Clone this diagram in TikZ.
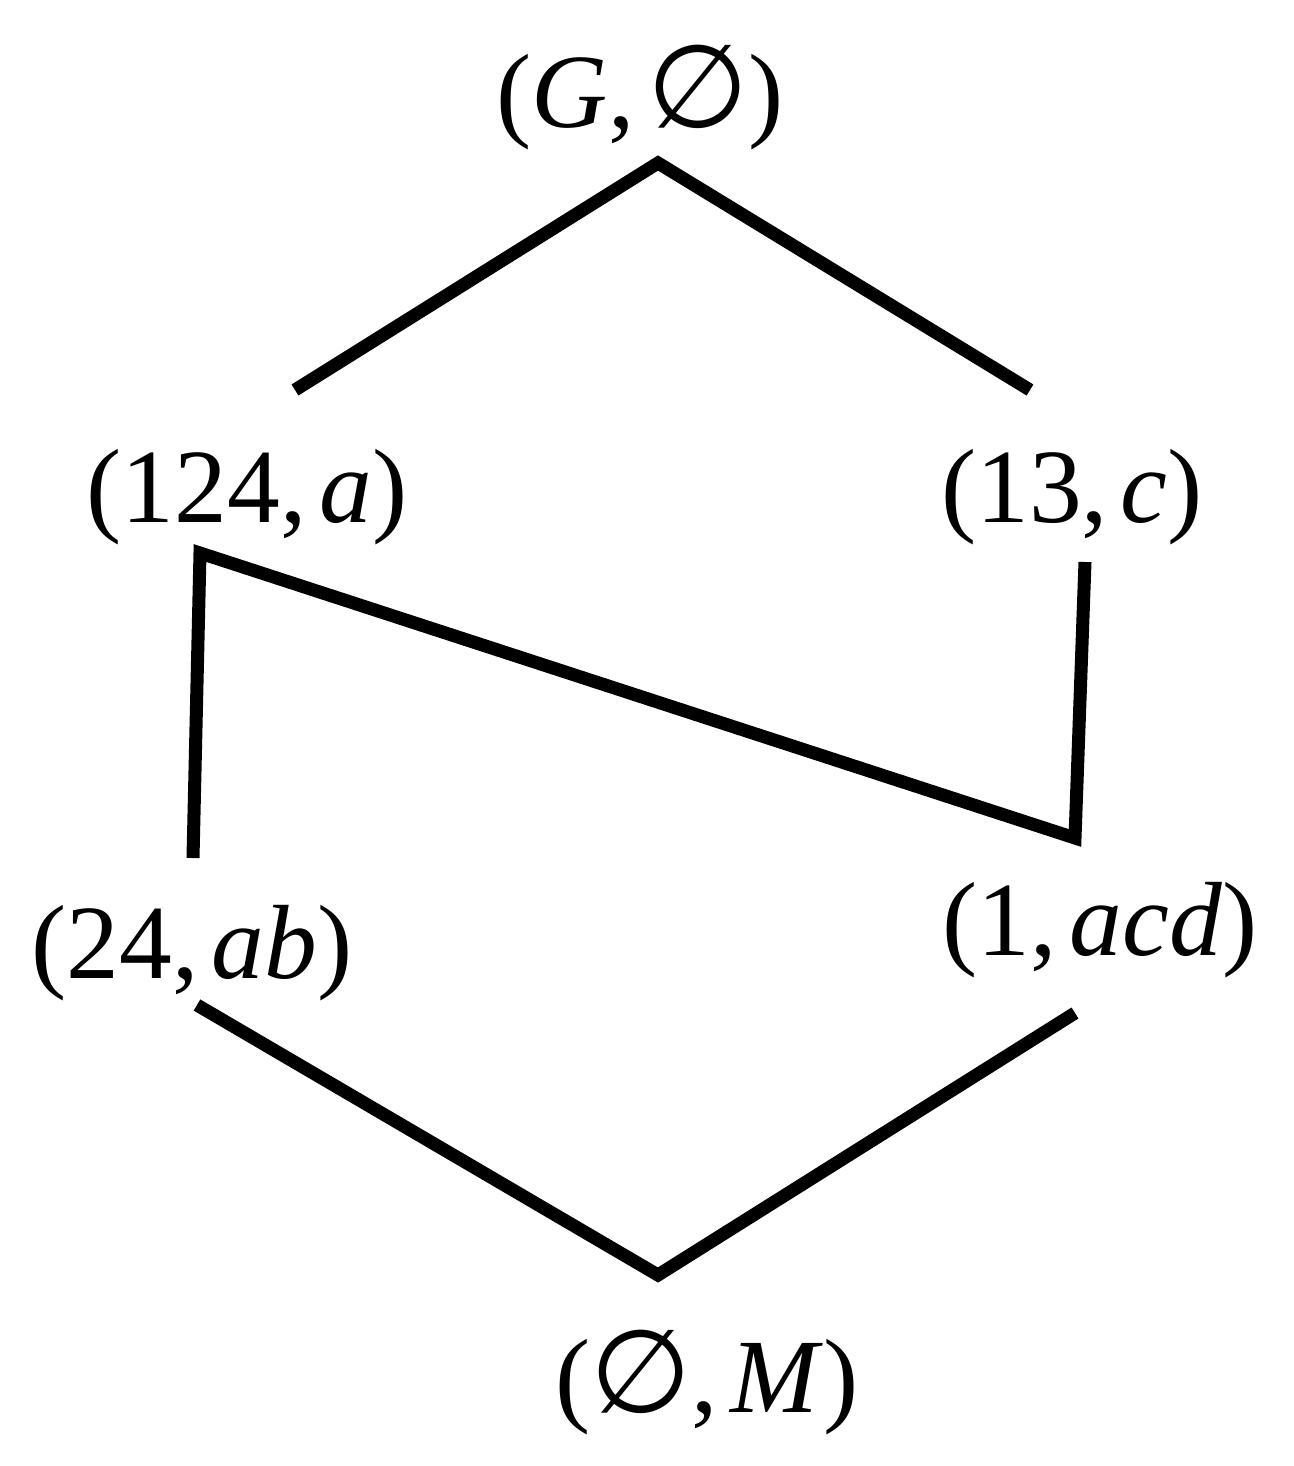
\documentclass[tikz,border=0pt]{standalone}
\usepackage{fontspec}
\setmainfont{Liberation Serif}
\newfontfamily\symfont{DejaVu Sans}[Scale=1.1]
\newcommand{\nullset}{{\symfont ∅}}
\newcommand{\csp}{\hspace{0.12em}}
\tikzstyle{lbl} = [inner sep=0pt, anchor=base, font=\fontsize{30}{36}\selectfont]
\tikzstyle{line} = [draw, line width=3.7pt]
\begin{document}
\begin{tikzpicture}[x=0.01cm, y=-0.01cm]
  \useasboundingbox (0,0) rectangle (1294,1466);
  \node [lbl] (top) at (640,127)  {(\textit{G},\csp\nullset)};
  \node [lbl] (a)   at (247,522)  {(124,\csp\textit{a})};
  \node [lbl] (c)   at (1072,522) {(13,\csp\textit{c})};
  \node [lbl] (ab)  at (192,978)  {(24,\csp\textit{ab})};
  \node [lbl] (acd) at (1100,955) {(1,\csp\textit{acd})};
  \node [lbl] (bot) at (707,1412) {(\nullset,\csp\textit{M})};
  \coordinate (topv) at (658,163);
  \coordinate (av)   at (200,553);
  \coordinate (acdv) at (1075,838);
  \coordinate (botv) at (658,1275);
  \coordinate (aup)   at (295,390);
  \coordinate (cup)   at (1030,390);
  \coordinate (cdown) at (1085,562);
  \coordinate (abup)  at (193,858);
  \coordinate (abdn)  at (197,1005);
  \coordinate (acddn) at (1075,1013);
  \path [line] (aup) -- (topv) -- (cup);
  \path [line] (abup) -- (av) -- (acdv) -- (cdown);
  \path [line] (abdn) -- (botv) -- (acddn);
\end{tikzpicture}
\end{document}
